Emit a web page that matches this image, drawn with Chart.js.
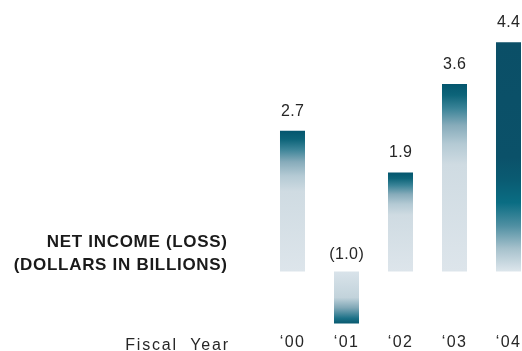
<!DOCTYPE html>
<html>
<head>
<meta charset="utf-8">
<script src="https://cdn.jsdelivr.net/npm/chart.js@4/dist/chart.umd.min.js"></script>
<style>
  html, body { margin: 0; padding: 0; background: #ffffff; overflow: hidden; }
  #wrap { position: relative; width: 560px; height: 351px; }
</style>
</head>
<body>
<div id="wrap"><canvas id="chart"></canvas></div>
<script>
// Fiscal years and net income (loss), dollars in billions
const fiscalYears = ['\u201800', '\u201801', '\u201802', '\u201803', '\u201804'];
const netIncome = [2.7, -1.0, 1.9, 3.6, 4.4];
const titleLines = ['NET INCOME (LOSS)', '(DOLLARS IN BILLIONS)'];
const axisCaption = 'Fiscal  Year';

// Colour ramps, listed from the value end of a bar toward its baseline
const RAMPS = {
  standard: [
    [0.00, '#04566e'], [0.06, '#0d6479'], [0.13, '#3a8397'], [0.22, '#86abba'],
    [0.32, '#b4cad4'], [0.43, '#cfdbe2'], [1.00, '#dde5eb']
  ],
  deep: [
    [0.00, '#0b4f67'], [0.50, '#0b5169'], [0.60, '#0a5b72'], [0.70, '#0a6d83'],
    [0.80, '#4f8fa2'], [0.90, '#a6c1cc'], [1.00, '#dde6ec']
  ],
  negative: [
    [0.00, '#08596f'], [0.10, '#1c7187'], [0.30, '#7fa7b6'], [0.50, '#c2d3db'],
    [1.00, '#d9e3ea']
  ]
};

const FONT = "'Liberation Sans', Arial, Helvetica, sans-serif";
const TEXT = '#262626';

function barFill(ctx) {
  const chart = ctx.chart;
  if (!chart.chartArea || !chart.scales.y) return '#cfdbe2';
  const v = netIncome[ctx.dataIndex];
  const y = chart.scales.y;
  const end = y.getPixelForValue(v);
  const base = y.getPixelForValue(0);
  const maxVal = Math.max(...netIncome);
  const ramp = v < 0 ? RAMPS.negative : (v === maxVal ? RAMPS.deep : RAMPS.standard);
  const g = chart.ctx.createLinearGradient(0, end, 0, base);
  ramp.forEach(([t, c]) => g.addColorStop(t, c));
  return g;
}

function fmt(v) {
  return v < 0 ? '(' + Math.abs(v).toFixed(1) + ')' : v.toFixed(1);
}

// Tracking for the axis labels, plus the value labels, side title and caption
const textPlugin = {
  id: 'annualText',
  beforeDraw(chart) {
    chart.ctx.letterSpacing = '1.4px';
  },
  afterDatasetsDraw(chart) {
    const ctx = chart.ctx;
    const meta = chart.getDatasetMeta(0);
    const yScale = chart.scales.y;
    const base = yScale.getPixelForValue(0);
    ctx.save();
    ctx.fillStyle = TEXT;
    ctx.font = '16px ' + FONT;
    ctx.letterSpacing = '0.4px';
    ctx.textAlign = 'center';
    ctx.textBaseline = 'alphabetic';
    meta.data.forEach((bar, i) => {
      const v = netIncome[i];
      const top = v < 0 ? base : bar.y;
      const gap = v < 0 ? 12 : 15;
      ctx.fillText(fmt(v), bar.x + 0.2, top - gap);
    });

    // Side title, right aligned
    ctx.fillStyle = '#1a1a1a';
    ctx.font = 'bold 17px ' + FONT;
    ctx.letterSpacing = '0.7px';
    ctx.textAlign = 'right';
    ctx.fillText(titleLines[0], 227.7, 247);
    ctx.fillText(titleLines[1], 227.7, 269.5);

    // Axis caption on the tick label line
    ctx.fillStyle = TEXT;
    ctx.font = '16px ' + FONT;
    ctx.letterSpacing = '1.8px';
    ctx.fillText(axisCaption, 229.8, 349.5);
    ctx.restore();
  }
};

new Chart(document.getElementById('chart'), {
  type: 'bar',
  data: {
    labels: fiscalYears,
    datasets: [{
      data: netIncome,
      backgroundColor: barFill,
      borderWidth: 0,
      categoryPercentage: 1,
      barPercentage: 0.463
    }]
  },
  options: {
    responsive: true,
    maintainAspectRatio: false,
    animation: false,
    devicePixelRatio: 1,
    layout: { padding: { left: 265.5, right: 24.5, top: 11, bottom: 0 } },
    plugins: {
      legend: { display: false },
      tooltip: { enabled: false }
    },
    scales: {
      x: {
        grid: { display: false, drawTicks: false },
        border: { display: false },
        ticks: {
          color: TEXT,
          padding: 0,
          font: { family: FONT, size: 16, lineHeight: 1 }
        }
      },
      y: {
        display: false,
        min: -1.22,
        max: 5
      }
    }
  },
  plugins: [textPlugin]
});
</script>
</body>
</html>
